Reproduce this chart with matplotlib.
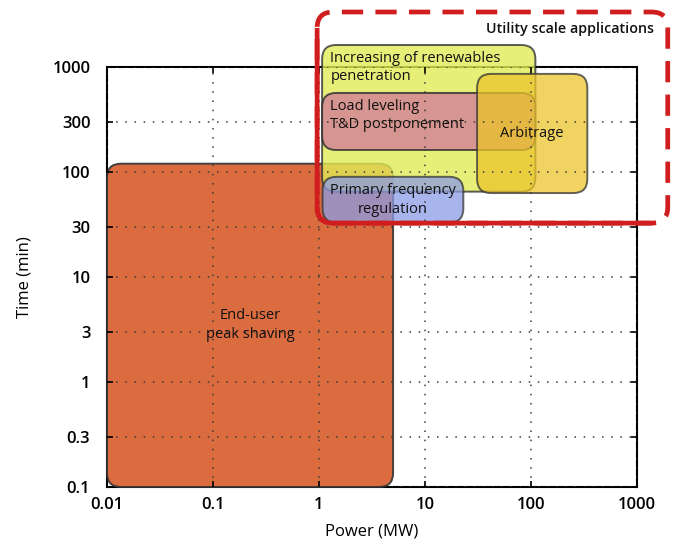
import numpy as np
import matplotlib
matplotlib.use("Agg")
import matplotlib.pyplot as plt
from matplotlib.patches import FancyBboxPatch, Rectangle

plt.rcParams['font.family'] = ['Open Sans', 'DejaVu Sans']

# application regions: power range (MW), time range (min)
names = ["End-user\npeak shaving",
         "Increasing of renewables\npenetration",
         "Load leveling\nT&D postponement",
         "Arbitrage",
         "Primary frequency\nregulation"]
p_low = [0.01, 1.07, 1.07, 31, 1.08]
p_high = [5.0, 110, 110, 340, 23]
t_low = [0.1, 65, 162, 63, 33]
t_high = [120, 1620, 566, 860, 90]
colors = ["#D65C2B", "#E2EC56", "#D38695", "#EBC52B", "#8B9BE6"]
alphas = [0.9, 0.8, 0.85, 0.75, 0.75]
label_pos = ["center", "topleft", "topleft", "center", "center"]

# utility scale envelope (MW, min)
util_p = [0.96, 1950]
util_t = [32.6, 3340]

xticks = [0.01, 0.1, 1, 10, 100, 1000]
xlabels = ["0.01", "0.1", "1", "10", "100", "1000"]
yticks = [0.1, 0.3, 1, 3, 10, 30, 100, 300, 1000]
ylabels = ["0.1", "0.3", "1", "3", "10", "30", "100", "300", "1000"]

W, H = 675, 550
fig = plt.figure(figsize=(W / 100, H / 100), dpi=100)
ax = fig.add_axes([107 / W, 63 / H, 530 / W, 420 / H])
ax.set_xscale("log")
ax.set_yscale("log")
ax.set_xlim(0.01, 1000)
ax.set_ylim(0.1, 1000)

ax_w, ax_h = 530.0, 420.0


def to_axes(x, y):
    d = ax.transData.transform((x, y))
    return ax.transAxes.inverted().transform(d)


def rbox(x0, x1, y0, y1, r_px, **kw):
    a0 = to_axes(x0, y0)
    a1 = to_axes(x1, y1)
    p = FancyBboxPatch((a0[0], a0[1]), a1[0] - a0[0], a1[1] - a0[1],
                       boxstyle="round,pad=0,rounding_size=%f" % (r_px / ax_w),
                       mutation_aspect=ax_w / ax_h, transform=ax.transAxes, **kw)
    ax.add_patch(p)
    return p


for i in range(len(names)):
    rbox(p_low[i], p_high[i], t_low[i], t_high[i], 14,
         facecolor=colors[i], alpha=alphas[i], edgecolor="#333333",
         linewidth=1.4, zorder=3 + i * 0.1, clip_on=False)
    if label_pos[i] == "center":
        cx = np.sqrt(p_low[i] * p_high[i])
        cy = np.sqrt(t_low[i] * t_high[i])
        ax.text(cx, cy, names[i], ha="center", va="center", fontsize=10.5,
                color="#111111", linespacing=1.35, zorder=4.5)
    else:
        ax.annotate(names[i], xy=(p_low[i], t_high[i]), xytext=(6, -4),
                    textcoords="offset points", ha="left", va="top",
                    fontsize=10.5, color="#111111", linespacing=1.35,
                    zorder=4.5, annotation_clip=False)

# utility scale envelope: dashed outline, solid on left and bottom
dash = rbox(util_p[0], util_p[1], util_t[0], util_t[1], 16,
            facecolor="none", edgecolor="#D01E1E", linewidth=3.4,
            linestyle=(0, (4.5, 2.6)), zorder=5, clip_on=False)
solid = rbox(util_p[0], util_p[1], util_t[0], util_t[1], 16,
             facecolor="none", edgecolor="#D01E1E", linewidth=3.4,
             zorder=5)
solid.set_clip_path(Rectangle((0, 0), 652 / W, (H - 28) / H,
                              transform=fig.transFigure))
ax.annotate("Utility scale applications", xy=(util_p[1], util_t[1]),
            xytext=(-10, -7), textcoords="offset points", ha="right", va="top",
            fontsize=10.3, fontweight="semibold", color="#111111",
            annotation_clip=False, zorder=6)

ax.set_xticks(xticks)
ax.set_xticklabels(xlabels)
ax.set_yticks(yticks)
ax.set_yticklabels(ylabels)
ax.minorticks_off()
ax.tick_params(axis="both", which="major", direction="in", length=4,
               width=1.2, top=True, right=True, labelsize=12)
ax.tick_params(axis="y", pad=12)
ax.tick_params(axis="x", pad=7)
for lab in ax.get_xticklabels() + ax.get_yticklabels():
    lab.set_fontweight("semibold")

# dotted grid shows through the boxes, spines stay beneath them
ax.grid(True, which="major", color="#3a3a3a", linestyle=(0, (1, 5)),
        linewidth=1.1)
ax.xaxis.set_zorder(4)
ax.yaxis.set_zorder(4)
for s in ax.spines.values():
    s.set_linewidth(1.5)
    s.set_zorder(2)

ax.set_xlabel("Power (MW)", fontsize=12, labelpad=8)
ax.set_ylabel("Time (min)", fontsize=12, labelpad=14)

fig.savefig("out.png", dpi=100)
